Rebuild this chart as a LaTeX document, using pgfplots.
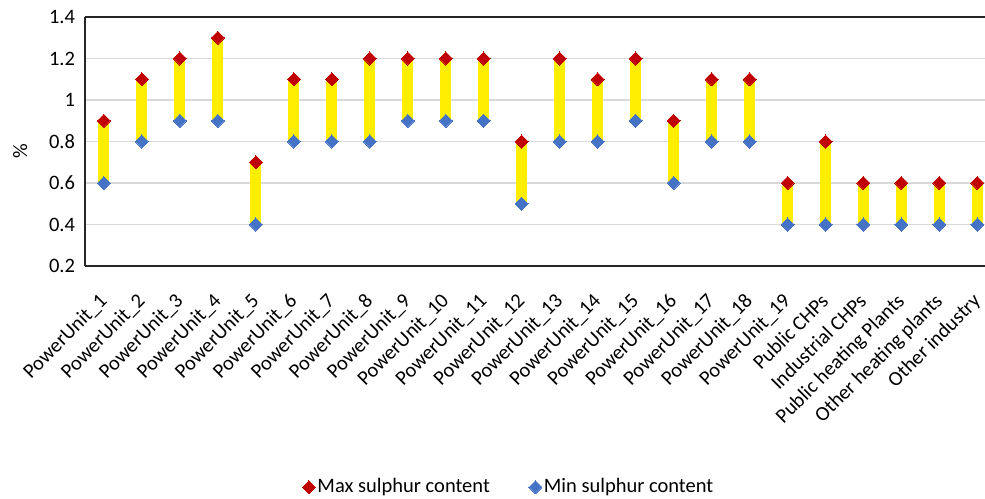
\documentclass[border=0pt]{standalone}
\usepackage{pgfplots}
\pgfplotsset{compat=1.18}
\usepackage{pgfplotstable}
\usepackage{fontspec}
\setmainfont{Carlito}
\definecolor{maxred}{HTML}{C00000}
\definecolor{minblue}{HTML}{4472C4}
\definecolor{baryel}{HTML}{FFEE00}
\definecolor{gridgray}{HTML}{D9D9D9}

\pgfplotstableread{
x max min
0 0.9 0.6
1 1.1 0.8
2 1.2 0.9
3 1.3 0.9
4 0.7 0.4
5 1.1 0.8
6 1.1 0.8
7 1.2 0.8
8 1.2 0.9
9 1.2 0.9
10 1.2 0.9
11 0.8 0.5
12 1.2 0.8
13 1.1 0.8
14 1.2 0.9
15 0.9 0.6
16 1.1 0.8
17 1.1 0.8
18 0.6 0.4
19 0.8 0.4
20 0.6 0.4
21 0.6 0.4
22 0.6 0.4
23 0.6 0.4
}\datatable

\begin{document}
\fontsize{20.5bp}{24bp}\selectfont
\begin{tikzpicture}
\begin{axis}[
  scale only axis,
  width=900bp, height=249bp,
  xmin=-0.5, xmax=23.2,
  ymin=0.2, ymax=1.4,
  ytick={0.2,0.4,...,1.4},
  xtick={0,...,23},
  xticklabels={PowerUnit\_1,PowerUnit\_2,PowerUnit\_3,PowerUnit\_4,PowerUnit\_5,PowerUnit\_6,PowerUnit\_7,PowerUnit\_8,PowerUnit\_9,PowerUnit\_10,PowerUnit\_11,PowerUnit\_12,PowerUnit\_13,PowerUnit\_14,PowerUnit\_15,PowerUnit\_16,PowerUnit\_17,PowerUnit\_18,PowerUnit\_19,Public CHPs,Industrial CHPs,Public heating Plants,Other heating plants,Other industry},
  /pgf/number format/assume math mode=true,
  yticklabel style={/pgf/number format/fixed, xshift=-3bp},
  xticklabel style={xshift=-6bp, yshift=-26bp, rotate=45, anchor=north east, inner sep=0pt},
  xticklabel pos=lower,
  tick style={draw=none},
  major tick length=0pt,
  axis x line=box,
  axis y line=left,
  axis line style={-, black!85, line width=1.3bp},
  ymajorgrids,
  grid style={gridgray, line width=1.3bp},
  ylabel={\%},
  ylabel style={at={(axis description cs:-0.072,0.462)}, rotate=0, anchor=center},
  legend columns=2,
  legend style={at={(axis description cs:0.471,-0.888)}, anchor=center, draw=none, fill=none,
    /tikz/every even column/.append style={column sep=37bp},
    nodes={inner sep=2bp}},
  legend image code/.code={\draw[#1, draw=none] plot coordinates {(0bp,0bp)};},
]
\addplot[draw=none, mark=none, forget plot,
  error bars/.cd, y dir=plus, y explicit,
  error mark=none,
  error bar style={line width=11bp, draw=baryel}]
  table[x=x, y=min, y error expr=\thisrow{max}-\thisrow{min}] {\datatable};
\addplot[only marks, mark=square*, mark size=4.6bp,
  mark options={rotate=45, fill=maxred, draw=maxred, line width=0pt}]
  table[x=x, y=max] {\datatable};
\addlegendentry{Max sulphur content}
\addplot[only marks, mark=square*, mark size=4.6bp,
  mark options={rotate=45, fill=minblue, draw=minblue, line width=0pt}]
  table[x=x, y=min] {\datatable};
\addlegendentry{Min sulphur content}
\coordinate (A) at (rel axis cs:0,0);
\coordinate (B) at (rel axis cs:1,1);
\end{axis}
\pgfresetboundingbox
\path[use as bounding box] ([xshift=-85bp,yshift=-233bp]A) rectangle ([yshift=17bp]B);
\end{tikzpicture}
\end{document}
